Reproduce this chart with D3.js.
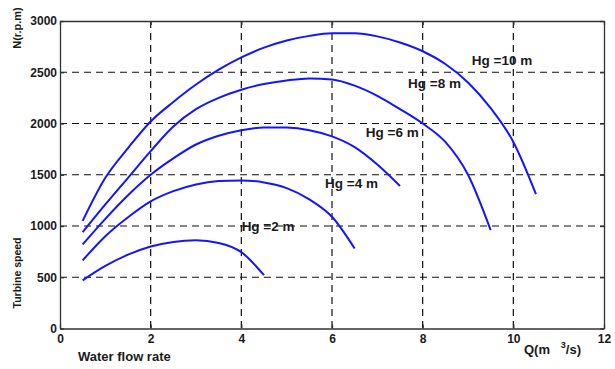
<!DOCTYPE html>
<html>
<head>
<meta charset="utf-8">
<script src="https://cdn.jsdelivr.net/npm/d3@7"></script>
<style>
  body { margin: 0; background: #fff; }
  svg { display: block; font-family: "Liberation Sans", Arial, sans-serif; }
</style>
</head>
<body>
<svg></svg>
<script>
// Size of the picture
const width = 615;
const height = 369;

// Flow rate Q (m3/s) for every curve, and turbine speed N (rpm) per head Hg
const q2 = [0.5, 1, 1.5, 2, 2.5, 3, 3.5, 4, 4.5];
const n2 = [470, 610, 720, 800, 845, 860, 835, 745, 520];

const q4 = [0.5, 1, 1.5, 2, 2.5, 3, 3.5, 4, 4.5, 5, 5.5, 6, 6.5];
const n4 = [665, 900, 1085, 1240, 1340, 1405, 1438, 1445, 1425, 1370, 1260, 1090, 780];

const q6 = [0.5, 1, 1.5, 2, 2.5, 3, 3.5, 4, 4.5, 5, 5.5, 6, 6.5, 7, 7.5];
const n6 = [820, 1070, 1300, 1500, 1660, 1795, 1880, 1935, 1962, 1960, 1935, 1875, 1770, 1600, 1390];

const q8 = [0.5, 1, 1.5, 2, 2.5, 3, 3.5, 4, 4.5, 5, 5.5, 6, 6.5, 7, 7.5, 8, 8.5, 9, 9.5];
const n8 = [940, 1210, 1470, 1730, 1970, 2140, 2250, 2330, 2385, 2420, 2440, 2430, 2370, 2270, 2140, 2000, 1820, 1500, 960];

const q10 = [0.5, 1, 1.5, 2, 2.5, 3, 3.5, 4, 4.5, 5, 5.5, 6, 6.5, 7, 7.5, 8, 8.5, 9, 9.5, 10, 10.5];
const n10 = [1050, 1470, 1760, 2020, 2210, 2380, 2525, 2645, 2740, 2810, 2855, 2880, 2880, 2850, 2790, 2705, 2580, 2400, 2150, 1820, 1310];

// Labels of the curves and their centres (in data units)
const curveLabels = ["Hg =2 m", "Hg =4 m", "Hg =6 m", "Hg =8 m", "Hg =10 m"];
const labelQ = [4.59, 6.43, 7.33, 8.26, 9.75];
const labelN = [1000, 1415, 1912, 2395, 2620];

// Tick values
const xTicks = [0, 2, 4, 6, 8, 10, 12];
const yTicks = [0, 500, 1000, 1500, 2000, 2500, 3000];

const series = [
    { q: q2, n: n2 },
    { q: q4, n: n4 },
    { q: q6, n: n6 },
    { q: q8, n: n8 },
    { q: q10, n: n10 }
];

const plot = { left: 60, right: 604, top: 21, bottom: 328.5 };

const svg = d3.select("svg")
    .attr("width", width)
    .attr("height", height);

const x = d3.scaleLinear().domain([0, 12]).range([plot.left, plot.right]);
const y = d3.scaleLinear().domain([0, 3000]).range([plot.bottom, plot.top]);

// Dashed grid
const grid = svg.append("g")
    .attr("stroke", "#111")
    .attr("stroke-width", 1.2)
    .attr("stroke-dasharray", "7,5");

grid.selectAll("line.v")
    .data(xTicks.slice(1, -1))
    .enter()
    .append("line")
    .attr("class", "v")
    .attr("x1", d => x(d))
    .attr("x2", d => x(d))
    .attr("y1", plot.top)
    .attr("y2", plot.bottom);

grid.selectAll("line.h")
    .data(yTicks.slice(1, -1))
    .enter()
    .append("line")
    .attr("class", "h")
    .attr("x1", plot.left)
    .attr("x2", plot.right)
    .attr("y1", d => y(d))
    .attr("y2", d => y(d));

// Curves
const line = d3.line()
    .curve(d3.curveMonotoneX)
    .x(d => x(d[0]))
    .y(d => y(d[1]));

svg.append("g")
    .selectAll("path")
    .data(series)
    .enter()
    .append("path")
    .attr("fill", "none")
    .attr("stroke", "#1414ff")
    .attr("stroke-width", 2)
    .attr("stroke-linejoin", "round")
    .attr("d", s => line(s.q.map((q, i) => [q, s.n[i]])));

// Curve labels
svg.append("g")
    .selectAll("text")
    .data(curveLabels)
    .enter()
    .append("text")
    .attr("x", (d, i) => x(labelQ[i]))
    .attr("y", (d, i) => y(labelN[i]))
    .attr("text-anchor", "middle")
    .attr("dy", "0.35em")
    .attr("font-size", 13.5)
    .attr("font-weight", "bold")
    .attr("fill", "#1a1a1a")
    .text(d => d);

// Axes, ticks pointing inward
function styleAxis(g) {
    g.selectAll("path, line").attr("stroke", "#333").attr("stroke-width", 1.3);
    g.selectAll("text")
        .attr("font-size", 12)
        .attr("font-weight", "bold")
        .attr("fill", "#1a1a1a")
        .attr("font-family", "Liberation Sans, Arial, sans-serif");
}

svg.append("g")
    .attr("transform", `translate(0,${plot.bottom})`)
    .call(d3.axisBottom(x).tickValues(xTicks).tickFormat(d3.format("d"))
        .tickSizeInner(-4).tickSizeOuter(0).tickPadding(6))
    .call(styleAxis);

svg.append("g")
    .attr("transform", `translate(${plot.left},0)`)
    .call(d3.axisLeft(y).tickValues(yTicks).tickFormat(d3.format("d"))
        .tickSizeInner(-4).tickSizeOuter(0).tickPadding(3))
    .call(styleAxis);

svg.append("g")
    .attr("transform", `translate(0,${plot.top})`)
    .call(d3.axisTop(x).tickValues(xTicks).tickSizeInner(-4).tickSizeOuter(0).tickFormat(""))
    .call(styleAxis);

svg.append("g")
    .attr("transform", `translate(${plot.right},0)`)
    .call(d3.axisRight(y).tickValues(yTicks).tickSizeInner(-4).tickSizeOuter(0).tickFormat(""))
    .call(styleAxis);

// Axis titles
svg.append("text")
    .attr("x", 78)
    .attr("y", 361)
    .attr("font-size", 13)
    .attr("font-weight", "bold")
    .attr("fill", "#1a1a1a")
    .text("Water flow rate");

const qLabel = svg.append("text")
    .attr("x", 524)
    .attr("y", 354)
    .attr("font-size", 13)
    .attr("font-weight", "bold")
    .attr("fill", "#1a1a1a");
qLabel.append("tspan").text("Q(m\u00a0\u00a0\u00a0");
qLabel.append("tspan").attr("dy", -6).attr("font-size", 9).text("3");
qLabel.append("tspan").attr("dy", 6).text("/s)");

svg.append("text")
    .attr("transform", "translate(21,28) rotate(-90)")
    .attr("text-anchor", "middle")
    .attr("font-size", 11)
    .attr("font-weight", "bold")
    .attr("fill", "#1a1a1a")
    .text("N(r.p.m)");

svg.append("text")
    .attr("transform", "translate(21,273) rotate(-90)")
    .attr("text-anchor", "middle")
    .attr("font-size", 10.5)
    .attr("font-weight", "bold")
    .attr("fill", "#1a1a1a")
    .text("Turbine speed");
</script>
</body>
</html>
